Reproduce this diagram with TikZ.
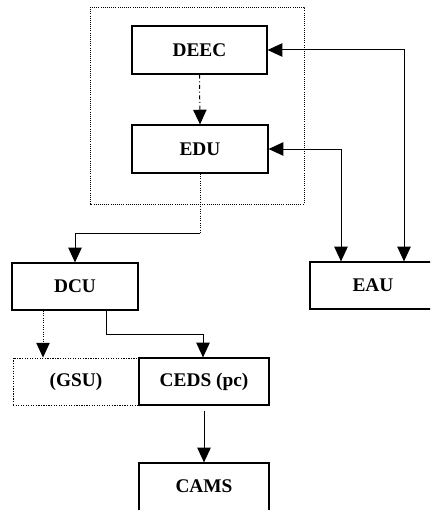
\documentclass[tikz,border=0pt]{standalone}
\usepackage{fontspec}
\setmainfont{Liberation Serif}
\usetikzlibrary{positioning, arrows.meta, calc}
\tikzset{
  unit/.style={draw, line width=0.9pt, minimum width=130*0.75pt, minimum height=47*0.75pt,
    inner sep=0, font=\fontsize{14.5}{16}\selectfont\bfseries},
  ghost/.style={unit, densely dotted, line width=0.7pt},
  link/.style={line width=0.75pt, -{Triangle[width=10pt,length=11pt]}},
  both/.style={line width=0.75pt, {Triangle[width=10pt,length=11pt]}-{Triangle[width=10pt,length=11pt]}}
}

\begin{document}
\begin{tikzpicture}[x=0.75pt,y=-0.75pt]
\clip (0,0) rectangle (430,510);

% engine side
\draw[densely dotted, line width=0.6pt] (90,7) rectangle (304,204);
\node [unit, minimum width=135*0.75pt, minimum height=48*0.75pt] (deec) at (199.5,50) {DEEC};
\node [unit, minimum width=136*0.75pt, minimum height=48*0.75pt] (edu) at (200,149) {EDU};
\node [unit, minimum width=126*0.75pt] (eau) at (373,285.5) {EAU};

\draw[link, dash dot] (deec.south) -- (edu.north);
\draw[both] (deec.east) -| ($(eau.north)+(31,0)$);
\draw[both] (edu.east) -| ($(eau.north)+(-32,0)$);

% ground side
\node [unit, minimum width=126*0.75pt] (dcu) at (75,286.5) {DCU};
\node [ghost, minimum width=126*0.75pt] (gsu) at (76,381.5) {(GSU)};
\node [unit] (ceds) at (204,381.5) {CEDS (pc)};
\node [unit, minimum height=56*0.75pt] (cams) at (204,491) {\raisebox{8pt}{CAMS}};

\coordinate (split) at (200,233);
\draw[densely dotted, line width=0.75pt] (edu.south) -- (split);
\draw[link] (split) -| (dcu.north);

\draw[link, densely dotted] ($(dcu.south)+(-32,0)$) -- ($(gsu.north)+(-33,0)$);
\draw[link] ($(dcu.south)+(31,0)$) |- (203,334) -- (ceds.north -| 203,0);
\draw[link] ($(ceds.south)+(0,5)$) -- (cams.north);

\end{tikzpicture}
\end{document}
